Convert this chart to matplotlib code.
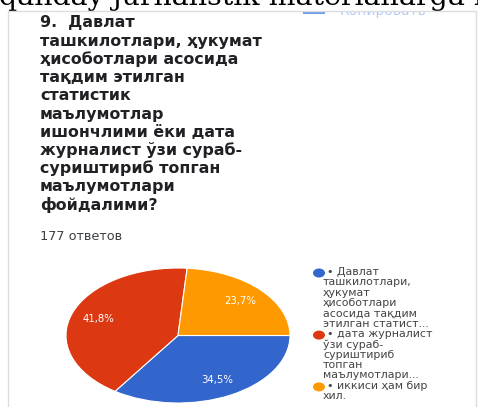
import matplotlib
matplotlib.use("Agg")
import matplotlib.pyplot as plt
from matplotlib.patches import Rectangle, Ellipse

# data
shares = [34.5, 41.8, 23.7]
colors = ["#3366cc", "#dc3912", "#ff9900"]
legend_lines = [
    ["• Давлат", "ташкилотлари,", "ҳукумат", "ҳисоботлари", "асосида тақдим", "этилган статист..."],
    ["• дата журналист", "ўзи сураб-", "суриштириб", "топган", "маълумотлари..."],
    ["• иккиси ҳам бир", "хил."],
]
question = ["9.  Давлат", "ташкилотлари, ҳукумат", "ҳисоботлари асосида", "тақдим этилган",
            "статистик", "маълумотлар", "ишончлими ёки дата", "журналист ўзи сураб-",
            "суриштириб топган", "маълумотлари", "фойдалими?"]
responses = "177 ответов"
header = "qanday jurnalistik materiallarga k"

W, H = 478, 407
fig = plt.figure(figsize=(W / 100, H / 100), dpi=100)
fig.patch.set_facecolor("white")

# overlay in pixel coords
bg = fig.add_axes([0, 0, 1, 1])
bg.set_xlim(0, W)
bg.set_ylim(H, 0)
bg.axis("off")

sans = ["DejaVu Sans"]

# half-hidden copy button, masked above the card edge
bg.add_patch(Rectangle((304, 3), 20, 10, facecolor="none", edgecolor="#6f9ee8", lw=1.5, zorder=0.5))
bg.text(340, 15.5, "Копировать", family=sans, fontsize=10, color="#b5cdf5", zorder=0.5)
bg.add_patch(Rectangle((0, -5), W, 15.5, facecolor="white", edgecolor="none", zorder=0.8))

bg.text(-1, 5, header, family="DejaVu Serif", fontsize=20.5, color="black", va="baseline", zorder=1)

# card border
bg.add_patch(Rectangle((8, 11), 468, 420, facecolor="none", edgecolor="#dadce0", lw=1, zorder=2))

y = 23
for line in question:
    bg.text(40, y, line, family=sans, fontsize=11.4, fontweight="bold", color="#202124",
            va="center", zorder=4)
    y += 18.2

bg.text(40, 237, responses, family=sans, fontsize=9.3, color="#3c4043", va="center", zorder=4)

# legend
y = 272
for lines, c in zip(legend_lines, colors):
    bg.add_patch(Ellipse((319, y + 1), 12, 9, facecolor=c, edgecolor="none", zorder=4))
    for i, line in enumerate(lines):
        bg.text(327 if i == 0 else 323, y, line, family=sans, fontsize=7.9, color="#444444",
                va="center", zorder=4)
        y += 10.3
    y += 0.3

# pie (stretched to an ellipse like the screenshot)
ax = fig.add_axes([66 / W, (H - 403) / H, 224 / W, 135 / H])
wedges, texts, autotexts = ax.pie(
    shares, colors=colors, startangle=0, counterclock=False,
    autopct=lambda p: f"{p:.1f}%".replace(".", ","), pctdistance=0.75,
    wedgeprops=dict(edgecolor="white", linewidth=0.8),
    textprops=dict(color="white", fontsize=7.3, family=sans))
ax.set_aspect("auto")
ax.set_xlim(-1, 1)
ax.set_ylim(-1, 1)
ax.set_zorder(5)

fig.savefig("out.png", dpi=100)
